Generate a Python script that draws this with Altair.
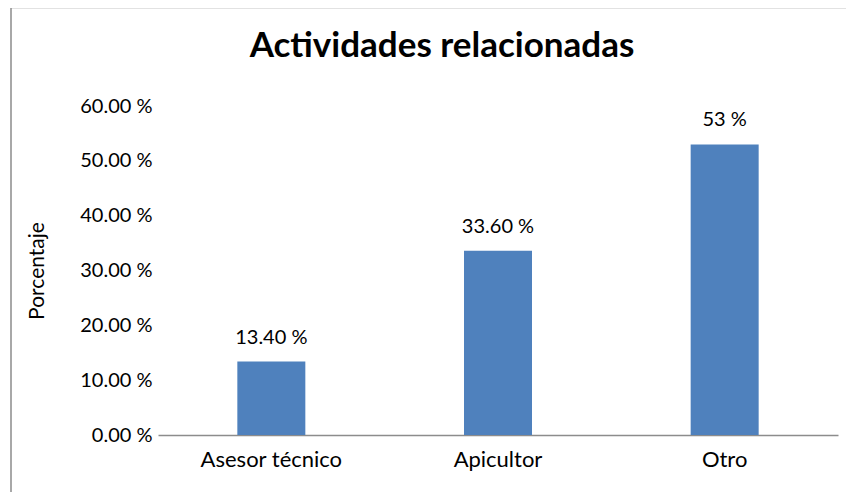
import altair as alt
import pandas as pd

categories = ["Asesor técnico", "Apicultor", "Otro"]
values = [0.134, 0.336, 0.53]
value_labels = ["13.40 %", "33.60 %", "53 %"]

df = pd.DataFrame({"cat": categories, "val": values, "lab": value_labels})

FONT = "Lato"
W, H = 680, 329

x_enc = alt.X("cat:N", sort=categories, title=None,
              scale=alt.Scale(paddingInner=0, paddingOuter=0),
              axis=alt.Axis(labelAngle=0, labelFontSize=22, labelFont=FONT,
                            labelColor="#000", labelPadding=14, ticks=False,
                            domainColor="#8c8c8c", domainWidth=1.5))
y_enc = alt.Y("val:Q", title="Porcentaje",
              scale=alt.Scale(domain=[0, 0.6], nice=False),
              axis=alt.Axis(values=[0, 0.1, 0.2, 0.3, 0.4, 0.5, 0.6],
                            labelExpr="format(datum.value*100, '.2f') + ' %'",
                            labelFontSize=20, labelFont=FONT, labelColor="#000",
                            labelPadding=6, ticks=False, domain=False, grid=False,
                            titleFont=FONT, titleFontSize=21, titleFontWeight="normal",
                            titleColor="#000", titleX=-121, titleY=H / 2,
                            titleAngle=-90, titleAlign="center", titleBaseline="middle"))

bars = alt.Chart(df).mark_bar(size=68, color="#4F81BD").encode(x=x_enc, y=y_enc)
labels = alt.Chart(df).mark_text(font=FONT, fontSize=20, baseline="bottom",
                                 dy=-14, color="#000").encode(
    x=alt.X("cat:N", sort=categories), y="val:Q", text="lab:N")

border = alt.Chart(pd.DataFrame({"a": [0]})).mark_rect(
    fill=None, stroke="#8c8c8c", strokeWidth=1.5).encode(
    x=alt.value(-147), x2=alt.value(W + 40),
    y=alt.value(-98.5), y2=alt.value(H + 80))

chart = alt.layer(border, bars, labels).properties(
    width=W, height=H,
    autosize=alt.AutoSizeParams(type="none"),
    padding={"left": 150, "top": 98, "right": 854 - 16 - 150 - W, "bottom": 500 - 16 - 98 - H},
    title=alt.TitleParams("Actividades relacionadas", font=FONT, fontSize=35,
                          fontWeight="bold", color="#000", anchor="middle",
                          frame="group", dx=-56, offset=-57),
).configure_view(stroke=None)

chart.save("out.html", embed_options={"renderer": "svg", "actions": False})
